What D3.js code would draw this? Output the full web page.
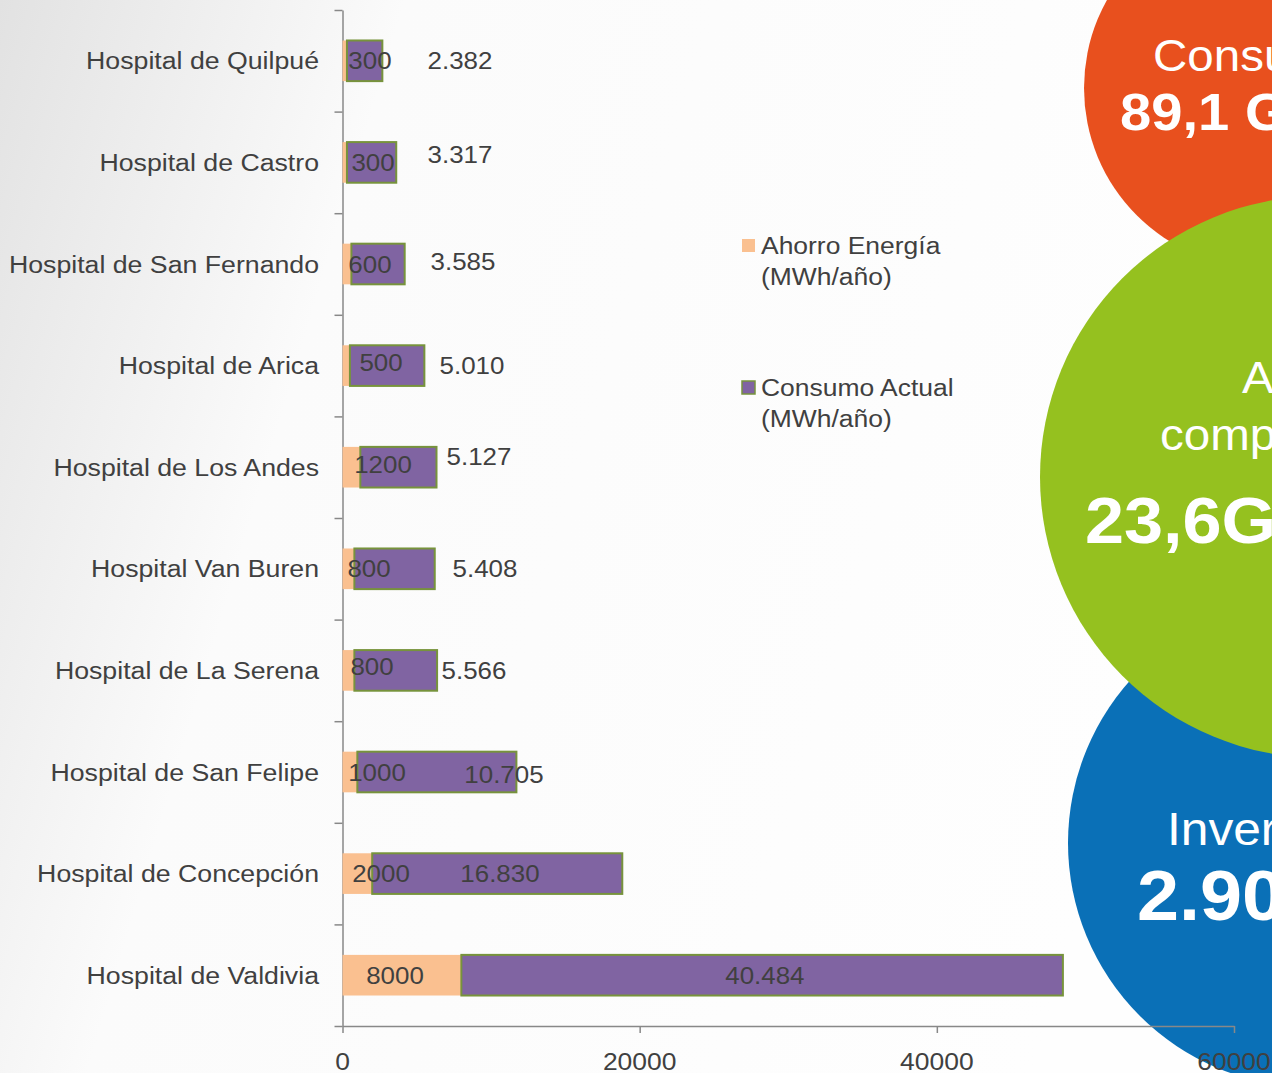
<!DOCTYPE html>
<html><head><meta charset="utf-8">
<script src="https://cdn.jsdelivr.net/npm/d3@7"></script>
<style>html,body{margin:0;padding:0;overflow:hidden;background:#fff}</style>
</head><body>
<script>
// ---- data ----
const categories = ["Hospital de Quilpué","Hospital de Castro","Hospital de San Fernando","Hospital de Arica","Hospital de Los Andes","Hospital Van Buren","Hospital de La Serena","Hospital de San Felipe","Hospital de Concepción","Hospital de Valdivia"];
const ahorro = [300,300,600,500,1200,800,800,1000,2000,8000];
const consumo = [2382,3317,3585,5010,5127,5408,5566,10705,16830,40484];
const xTicks = [0,20000,40000,60000];
const seriesNames = [["Ahorro Energía","(MWh/año)"],["Consumo Actual","(MWh/año)"]];
// label placement (layout, in data units / px nudges)
const ahorroLabelAt = [1850,2052,1850,2591,2725,1783,1985,2322,2591,3533];
const ahorroLabelDy = [0,0,0,-3,-3,0,-4,0,0,0];
const consumoLabelAt = [7906,7906,8108,8714,9185,9589,8848,10867,10598,28429];
const consumoLabelDy = [0,-8,-3,0,-11,0,0,2,0,0];
// decorative bubbles, in drawing order (orange, blue, green on top)
const bubbles = [
  {fill:"#E8501E", cx:1264, cy:88, r:180, lines:[["Consu",1153,71,44,false],["89,1 G",1120,130,52,true]]},
  {fill:"#0A70B7", cx:1312, cy:843, r:244, lines:[["Inver",1167,845,46,false],["2.90",1137,920,70,true]]},
  {fill:"#95C11F", cx:1321, cy:477, r:281, lines:[["A",1242,393,44,false],["comp",1160,450,44,false],["23,6G",1085,543,65,true]]}
];

const W=1272,H=1073, SX=1.08;
const FONT='"Liberation Sans", Arial, Helvetica, sans-serif';
const svg=d3.select("body").append("svg").attr("width",W).attr("height",H).style("font-family",FONT);

const defs=svg.append("defs");
const lg=defs.append("linearGradient").attr("id","bg").attr("x1","0").attr("y1","0").attr("x2","1").attr("y2","0.25");
lg.append("stop").attr("offset","0").attr("stop-color","#e2e2e2");
lg.append("stop").attr("offset","0.3").attr("stop-color","#fbfbfb");
lg.append("stop").attr("offset","1").attr("stop-color","#fefefe");
svg.append("rect").attr("width",W).attr("height",H).attr("fill","url(#bg)");

function txt(g,x,y,s,size,opts={}){
  return g.append("text").attr("transform",`translate(${x},${y}) scale(${opts.sx||SX},1)`)
    .attr("font-size",size).attr("fill",opts.fill||"#404040")
    .attr("font-weight",opts.bold?"bold":"normal")
    .attr("text-anchor",opts.anchor||"start").text(s);
}

// bubbles (behind chart)
bubbles.forEach(b=>{
  const g=svg.append("g");
  g.append("circle").attr("cx",b.cx).attr("cy",b.cy).attr("r",b.r).attr("fill",b.fill);
  b.lines.forEach(l=>txt(g,l[1],l[2],l[0],l[3],{fill:"#fff",bold:l[4]}));
});

// scales
const x=d3.scaleLinear().domain([0,60000]).range([342.5,1234]);
const y=d3.scaleBand().domain(categories).range([10,1026]).paddingInner(0.6).paddingOuter(0.3);
const yIdx=d3.scaleLinear().domain([0,categories.length]).range([10,1026]);
const AX="#888888";

// y axis
const ya=svg.append("g").attr("transform",`translate(${x(0)},0)`)
  .call(d3.axisLeft(yIdx).tickValues(d3.range(categories.length+1)).tickFormat("").tickSize(8).tickSizeOuter(0));
ya.selectAll("path,line").attr("stroke",AX).attr("stroke-width",1.5);

// x axis
const xa=svg.append("g").attr("transform",`translate(0,1026)`)
  .call(d3.axisBottom(x).tickValues(xTicks).tickFormat("").tickSize(7).tickSizeOuter(0));
xa.selectAll("path,line").attr("stroke",AX).attr("stroke-width",1.5);
xTicks.forEach(t=>txt(svg,x(t),1070,String(t),24.5,{anchor:"middle"}));

// category labels
categories.forEach(c=>txt(svg,319,y(c)+y.bandwidth()/2+8.5,c,24.5,{anchor:"end",sx:1.09}));

// bars
const rows=categories.map((c,i)=>({c,a:ahorro[i],k:consumo[i],i}));
svg.append("g").selectAll("rect").data(rows).join("rect")
  .attr("x",d=>x(0)).attr("y",d=>y(d.c)).attr("width",d=>x(d.a)-x(0)).attr("height",y.bandwidth())
  .attr("fill","#FAC090");
svg.append("g").selectAll("rect").data(rows).join("rect")
  .attr("x",d=>x(d.a)).attr("y",d=>y(d.c)).attr("width",d=>x(d.a+d.k)-x(d.a)).attr("height",y.bandwidth())
  .attr("fill","#8064A2").attr("stroke","#77933C").attr("stroke-width",2);

// value labels
const fmt=d3.formatLocale({decimal:",",thousands:".",grouping:[3],currency:["",""]}).format(",d");
const lbl=svg.append("g");
rows.forEach(d=>{
  const cy=y(d.c)+y.bandwidth()/2;
  txt(lbl,x(ahorroLabelAt[d.i]),cy+8.5+ahorroLabelDy[d.i],String(d.a),24,{anchor:"middle"});
  txt(lbl,x(consumoLabelAt[d.i]),cy+8.5+consumoLabelDy[d.i],fmt(d.k),24,{anchor:"middle"});
});

// legend
const leg=svg.append("g");
[[238,"#FAC090",null],[380,"#8064A2","#77933C"]].forEach((s,j)=>{
  leg.append("rect").attr("x",742).attr("y",s[0]+1).attr("width",13).attr("height",13)
    .attr("fill",s[1]).attr("stroke",s[2]||"none").attr("stroke-width",s[2]?1.5:0);
  txt(leg,761,s[0]+16,seriesNames[j][0],24.5);
  txt(leg,761,s[0]+47,seriesNames[j][1],24.5);
});
</script>
</body></html>
